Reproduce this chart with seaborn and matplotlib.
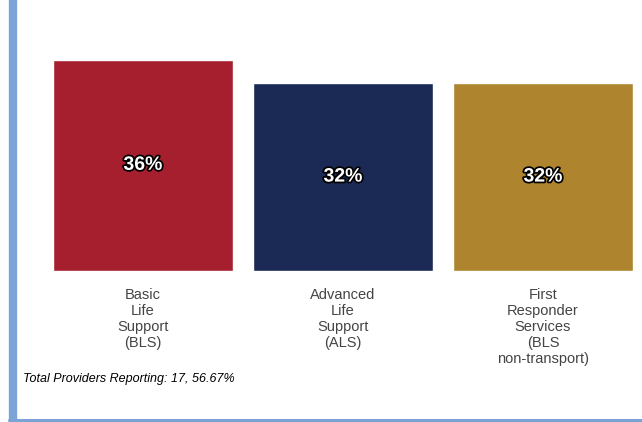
import matplotlib
matplotlib.use("Agg")
import matplotlib.pyplot as plt
import matplotlib.patheffects as pe
from matplotlib.lines import Line2D
import seaborn as sns
import pandas as pd

categories = ["Basic\nLife\nSupport\n(BLS)", "Advanced\nLife\nSupport\n(ALS)",
              "First\nResponder\nServices\n(BLS\nnon-transport)"]
values = [36, 32, 32]
value_labels = ["36%", "32%", "32%"]
colors = ["#A61F2E", "#1B2A55", "#AE842E"]
footnote = "Total Providers Reporting: 17, 56.67%"

sns.set_theme(style="white")
plt.rcParams['font.family'] = ['Liberation Sans', 'DejaVu Sans']

df = pd.DataFrame({"cat": categories, "val": values})

fig = plt.figure(figsize=(6.42, 4.22), dpi=100)
W, H = 642, 422
ax = fig.add_axes([43 / W, (H - 271) / H, 600 / W, 271 / H])
sns.barplot(data=df, x="cat", y="val", hue="cat", palette=colors, width=0.9,
            saturation=1, legend=False, ax=ax)
ax.set_xlim(-0.5, 2.5)
ax.set_ylim(0, 271 / 5.87)
for s in ax.spines.values():
    s.set_visible(False)
ax.set_yticks([])
ax.set_xlabel("")
ax.set_ylabel("")
ax.tick_params(axis="x", length=0, pad=12)
for t in ax.get_xticklabels():
    t.set_fontsize(10.5)
    t.set_color("#444444")
    t.set_linespacing(1.2)

for cont, lab in zip(ax.containers, value_labels):
    txts = ax.bar_label(cont, labels=[lab], label_type="center",
                        color="white", fontsize=14, fontweight="bold")
    for t in txts:
        t.set_path_effects([pe.Stroke(linewidth=2.5, foreground="black"), pe.Normal()])

fig.text(23 / W, 1 - 379 / H, footnote, fontsize=9, style="italic",
         color="black", va="center", ha="left")

fig.add_artist(Line2D([13 / W, 13 / W], [0, 1], transform=fig.transFigure,
                      color="#7BA3D6", linewidth=6))
fig.add_artist(Line2D([9 / W, 1], [1 - 419.5 / H, 1 - 419.5 / H], transform=fig.transFigure,
                      color="#7BA3D6", linewidth=2.2))

fig.savefig("out.png", dpi=100)
